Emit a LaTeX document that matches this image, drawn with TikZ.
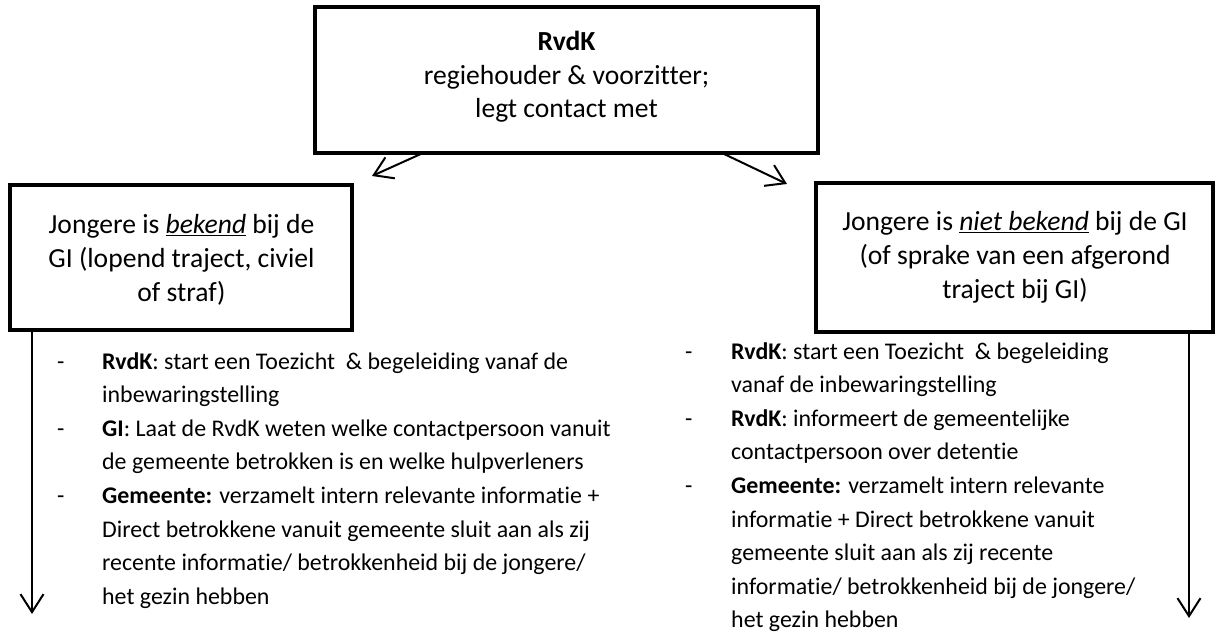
\documentclass[tikz,border=0pt]{standalone}
\usepackage{fontspec}
\setmainfont{Carlito}[Ligatures=NoCommon]
\usetikzlibrary{arrows.meta}
\begin{document}
\begin{tikzpicture}[x=1pt,y=-1pt,
  box/.style={draw, line width=4.5pt, rectangle, inner sep=0pt, outer sep=0pt},
  boxtext/.style={font=\fontsize{27.6}{33.7}\selectfont, align=center, anchor=base, inner sep=0pt},
  listtext/.style={font=\fontsize{23.9}{33.6}\selectfont, anchor=base west, inner sep=0pt},
  arr/.style={line width=2pt, -{Straight Barb[length=18pt,width=23pt,line width=2pt]}}]
\useasboundingbox (0,0) rectangle (1217,636);

% boxes
\node[box, minimum width=503pt, minimum height=146pt] (top) at (566.5,80) {};
\node[box, minimum width=342pt, minimum height=145pt] (lbox) at (181,257.5) {};
\node[box, minimum width=397pt, minimum height=149pt] (rbox) at (1014.5,257.5) {};

% box texts (base anchor = baseline of the last line)
\node[boxtext] (toptext) at (566.5,118) {\textbf{RvdK}\\regiehouder \& voorzitter;\\legt contact met};
\node[boxtext] (ltext) at (181.5,301) {Jongere is \underline{\textit{bekend}} bij de\\GI (lopend traject, civiel\\of straf)};
\node[boxtext] (rtext) at (1015,298) {Jongere is \underline{\textit{niet bekend}} bij de GI\\(of sprake van een afgerond\\traject bij GI)};

% lists
\node[listtext] (llist) at (57,369) {\begin{tabular}[t]{@{}p{45pt}@{}l@{}}
- & \textbf{RvdK}: start een Toezicht\ \ \& begeleiding vanaf de\\
  & inbewaringstelling\\
- & \textbf{GI}: Laat de RvdK weten welke contactpersoon vanuit\\
  & de gemeente betrokken is en welke hulpverleners\\
- & \textbf{Gemeente:} verzamelt intern relevante informatie +\\
  & Direct betrokkene vanuit gemeente sluit aan als zij\\
  & recente informatie/ betrokkenheid bij de jongere/\\
  & het gezin hebben
\end{tabular}};
\node[listtext] (rlist) at (685,359) {\begin{tabular}[t]{@{}p{46pt}@{}l@{}}
- & \textbf{RvdK}: start een Toezicht\ \ \& begeleiding\\
  & vanaf de inbewaringstelling\\
- & \textbf{RvdK}: informeert de gemeentelijke\\
  & contactpersoon over detentie\\
- & \textbf{Gemeente:} verzamelt intern relevante\\
  & informatie + Direct betrokkene vanuit\\
  & gemeente sluit aan als zij recente\\
  & informatie/ betrokkenheid bij de jongere/\\
  & het gezin hebben
\end{tabular}};

% connectors
\coordinate (ltip) at (372,176);
\coordinate (rtip) at (787,184);
\coordinate (lend) at (32,614);
\coordinate (rend) at (1189,618);
\draw[arr] ([xshift=108pt]top.south west) -- (ltip);
\draw[arr] ([xshift=-96pt]top.south east) -- (rtip);
\draw[arr] ([xshift=22pt]lbox.south west) -- (lend);
\draw[arr] ([xshift=-24pt]rbox.south east) -- (rend);
\end{tikzpicture}
\end{document}
